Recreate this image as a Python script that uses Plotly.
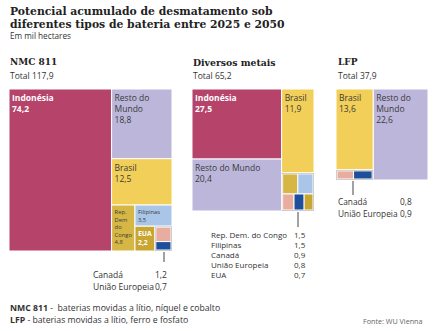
import plotly.graph_objects as go

W, H = 436, 331
SANS = "Open Sans"
SERIF = "DejaVu Serif"

# ---------------- data ----------------
nmc_names = ["Indonésia", "Resto do Mundo", "Brasil", "Rep. Dem. do Congo", "Filipinas", "EUA", "Canadá", "União Europeia"]
nmc_values = [74.2, 18.8, 12.5, 4.8, 3.5, 2.2, 1.2, 0.7]
nmc_tile_labels = ["<b>Indonésia</b>", "Resto do<br>Mundo", "Brasil", "Rep.<br>Dem<br>do<br>Congo", "Filipinas", "<b>EUA</b>", "", ""]
nmc_small = ["Canadá", "União Europeia"]
nmc_total = "117,9"

div_names = ["Indonésia", "Resto do Mundo", "Brasil", "Rep. Dem. do Congo", "Filipinas", "Canadá", "União Europeia", "EUA"]
div_values = [27.5, 20.4, 11.9, 1.5, 1.5, 0.9, 0.8, 0.7]
div_tile_labels = ["<b>Indonésia</b>", "Resto do Mundo", "Brasil", "", "", "", "", ""]
div_small = ["Rep. Dem. do Congo", "Filipinas", "Canadá", "União Europeia", "EUA"]
div_total = "65,2"

lfp_names = ["Brasil", "Resto do Mundo", "Canadá", "União Europeia"]
lfp_values = [13.6, 22.6, 0.8, 0.9]
lfp_tile_labels = ["Brasil", "Resto do<br>Mundo", "", ""]
lfp_small = ["Canadá", "União Europeia"]
lfp_total = "37,9"

country_colors = {
    "Indonésia": "#b5436a",
    "Resto do Mundo": "#bcb7da",
    "Brasil": "#f2cf58",
    "Rep. Dem. do Congo": "#d6b746",
    "Filipinas": "#a9c6e8",
    "EUA": "#c9a632",
    "Canadá": "#e8ad9f",
    "União Europeia": "#1d4f9a",
}
white_text = {"Indonésia", "EUA"}


def fmt(v):
    return f"{v:.1f}".replace(".", ",")


def px_x(v):
    return v / W


def px_y(v):
    return 1 - v / H


def make_treemap(key, names, values, tile_labels, small, box, flip=None):
    x0, x1, y0, y1 = box
    ids, labels, parents, vals, colors, texts, tcolors, lcolors, lwidths = [], [], [], [], [], [], [], [], []
    root = key + "_root"
    grp = key + "_outros"
    ids.append(root); labels.append(""); parents.append(""); vals.append(0)
    colors.append("rgba(0,0,0,0)"); texts.append(""); tcolors.append("#333"); lcolors.append("rgba(0,0,0,0)"); lwidths.append(0)
    ids.append(grp); labels.append(""); parents.append(root); vals.append(0)
    colors.append("#3a3a3a"); texts.append(""); tcolors.append("#333"); lcolors.append("white"); lwidths.append(1)
    for n, v, tl in zip(names, values, tile_labels):
        ids.append(key + "_" + n)
        labels.append(n)
        parents.append(grp if n in small else root)
        vals.append(v)
        colors.append(country_colors[n])
        if tl:
            val = "<b>" + fmt(v) + "</b>" if n in white_text else fmt(v)
            texts.append(tl + "<br>" + val)
        else:
            texts.append("")
        tcolors.append("white" if n in white_text else "#3a3a3a")
        lcolors.append("white")
        lwidths.append(1)
    tiling = dict(packing="squarify", squarifyratio=1, pad=0)
    if flip:
        tiling["flip"] = flip
    return go.Treemap(
        ids=ids, labels=labels, parents=parents, values=vals,
        branchvalues="remainder", sort=True,
        text=texts, texttemplate="%{text}", textposition="top left",
        textfont=dict(family=SANS, size=8.5, color=tcolors),
        marker=dict(colors=colors, line=dict(color=lcolors, width=lwidths),
                    pad=dict(t=1, l=1, r=1, b=1)),
        tiling=tiling,
        root=dict(color="rgba(0,0,0,0)"),
        pathbar=dict(visible=False),
        hoverinfo="skip",
        domain=dict(x=[px_x(x0), px_x(x1)], y=[px_y(y1), px_y(y0)]),
    )


fig = go.Figure()
fig.add_trace(make_treemap("nmc", nmc_names, nmc_values, nmc_tile_labels, nmc_small, (8, 173, 88, 252)))
fig.add_trace(make_treemap("div", div_names, div_values, div_tile_labels, div_small, (191, 315, 88, 212)))
fig.add_trace(make_treemap("lfp", lfp_names, lfp_values, lfp_tile_labels, lfp_small, (335, 429, 88, 181), flip="x"))

ann = []


def text(x, y, s, size=8.5, family=SANS, color="#333", xanchor="left"):
    ann.append(dict(x=px_x(x), y=px_y(y), xref="paper", yref="paper", text=s, showarrow=False,
                    xanchor=xanchor, yanchor="middle", font=dict(family=family, size=size, color=color)))


# title
text(8, 11, "<b>Potencial acumulado de desmatamento sob</b>", size=10.8, family=SERIF, color="#222")
text(8, 24, "<b>diferentes tipos de bateria entre 2025 e 2050</b>", size=10.8, family=SERIF, color="#222")
text(8, 36, "Em mil hectares", size=8.2, color="#333")

# panel headers
text(8, 62, "<b>NMC 811</b>", size=9, family=SERIF, color="#222")
text(8, 75, "Total " + nmc_total, size=8.5)
text(191, 62, "<b>Diversos metais</b>", size=9.3, family=SERIF, color="#222")
text(191, 75, "Total " + div_total, size=8.5)
text(336, 62, "<b>LFP</b>", size=9, family=SERIF, color="#222")
text(336, 75, "Total " + lfp_total, size=8.5)

shapes = []


def leader(x, ya, yb):
    shapes.append(dict(type="line", xref="paper", yref="paper", x0=px_x(x), x1=px_x(x),
                       y0=px_y(ya), y1=px_y(yb), line=dict(color="#444", width=1)))


# small-item labels
leader(164, 252, 262)
for i, n in enumerate(nmc_small):
    v = nmc_values[nmc_names.index(n)]
    y = 274 + i * 12
    text(91, y, n, size=8.5)
    text(169, y, fmt(v), size=8.5, xanchor="right")

leader(298, 212, 227)
for i, n in enumerate(div_small):
    v = div_values[div_names.index(n)]
    y = 234 + i * 10.2
    text(209, y, n, size=8)
    text(292, y, fmt(v), size=8)

leader(353, 181, 195)
for i, n in enumerate(lfp_small):
    v = lfp_values[lfp_names.index(n)]
    y = 201 + i * 12
    text(336, y, n, size=8.3)
    text(414, y, fmt(v), size=8.3, xanchor="right")

# footnotes
text(8, 307.5, "<b>NMC 811</b> -  baterias movidas a lítio, níquel e cobalto", size=8.7)
text(8, 319.5, "<b>LFP</b> - baterias movidas a lítio, ferro e fosfato", size=8.7)
text(424, 321, "Fonte: WU Vienna", size=7.2, color="#666", xanchor="right")

fig.update_layout(
    width=W, height=H, margin=dict(l=0, r=0, t=0, b=0),
    paper_bgcolor="white", plot_bgcolor="white",
    annotations=ann, shapes=shapes, showlegend=False,
)

fig.write_html("out.html")
